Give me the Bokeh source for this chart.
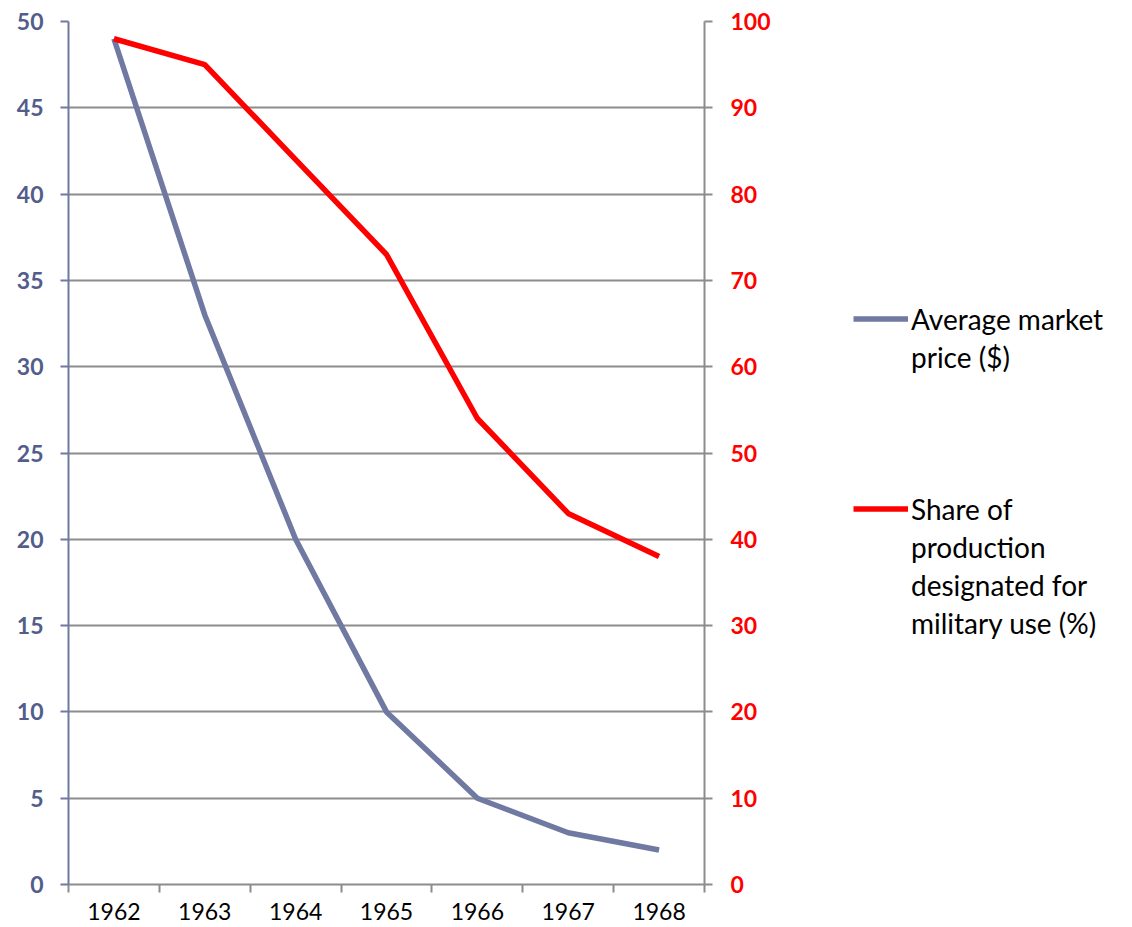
from bokeh.plotting import figure
from bokeh.layouts import row
from bokeh.models import Range1d, LinearAxis, FixedTicker, Legend, LegendItem
from bokeh.embed import file_html
from bokeh.resources import INLINE

years = ["1962", "1963", "1964", "1965", "1966", "1967", "1968"]
price = [49, 33, 20, 10, 5, 3, 2]
military_share = [98, 95, 84, 73, 54, 43, 38]
left_ticks = [0, 5, 10, 15, 20, 25, 30, 35, 40, 45, 50]
right_ticks = [0, 10, 20, 30, 40, 50, 60, 70, 80, 90, 100]
legend_price = ["Average market", "price ($)"]
legend_share = ["Share of", "production", "designated for", "military use (%)"]

FONT = "Lato"
BLUE = "#6F79A1"
BLUE_TXT = "#525D8A"
RED = "#FF0000"
GRAY = "#8C8C8C"
LINE_W = 5.5

xs = [i + 0.5 for i in range(len(years))]

p = figure(width=780, height=925, output_backend="svg", toolbar_location=None,
           x_range=Range1d(0, len(years)), y_range=Range1d(0, 50),
           min_border_left=68, min_border_right=76, min_border_top=21, min_border_bottom=41)
p.outline_line_color = None
p.background_fill_color = "white"
p.border_fill_color = "white"

p.extra_y_ranges = {"share": Range1d(0, 100)}

p.line(xs, price, line_color=BLUE, line_width=LINE_W)
p.line(xs, military_share, line_color=RED, line_width=LINE_W, y_range_name="share")

# x axis
xa = p.xaxis[0]
xa.ticker = FixedTicker(ticks=xs, minor_ticks=list(range(len(years) + 1)))
xa.major_label_overrides = {x: y for x, y in zip(xs, years)}
xa.major_tick_out = 0
xa.major_tick_in = 0
xa.minor_tick_out = 8
xa.minor_tick_in = 0
xa.minor_tick_line_color = GRAY
xa.minor_tick_line_width = 2
xa.axis_line_color = GRAY
xa.axis_line_width = 2
xa.major_label_text_font = FONT
xa.major_label_text_font_size = "23px"
xa.major_label_text_color = "black"
xa.major_label_standoff = 10

# left axis
ya = p.yaxis[0]
ya.ticker = FixedTicker(ticks=left_ticks)
ya.axis_line_color = BLUE
ya.axis_line_width = 2
ya.major_tick_line_color = BLUE
ya.major_tick_line_width = 2
ya.major_tick_out = 8
ya.major_tick_in = 0
ya.minor_tick_line_color = None
ya.major_label_text_font = FONT
ya.major_label_text_font_size = "23px"
ya.major_label_text_font_style = "bold"
ya.major_label_text_color = BLUE_TXT
ya.major_label_standoff = 17

# right axis
ra = LinearAxis(y_range_name="share", ticker=FixedTicker(ticks=right_ticks))
ra.axis_line_color = GRAY
ra.axis_line_width = 2
ra.major_tick_line_color = GRAY
ra.major_tick_line_width = 2
ra.major_tick_out = 8
ra.major_tick_in = 0
ra.minor_tick_line_color = None
ra.major_label_text_font = FONT
ra.major_label_text_font_size = "23px"
ra.major_label_text_font_style = "bold"
ra.major_label_text_color = RED
ra.major_label_standoff = 18
p.add_layout(ra, "right")

p.xgrid.grid_line_color = None
p.ygrid.ticker = FixedTicker(ticks=left_ticks)
p.ygrid.grid_line_color = GRAY
p.ygrid.grid_line_width = 2

# legend panel
q = figure(width=344, height=925, output_backend="svg", toolbar_location=None,
           x_range=Range1d(0, 1), y_range=Range1d(0, 1),
           x_axis_location=None, y_axis_location=None,
           min_border=0)
q.outline_line_color = None
q.grid.visible = False
k1 = q.line(x=[0], y=[0], line_color=BLUE, line_width=LINE_W)
k2 = q.line(x=[0], y=[0], line_color=RED, line_width=LINE_W)
kb = q.line(x=[0], y=[0], line_alpha=0)

items = [LegendItem(label=legend_price[0], renderers=[k1])]
items += [LegendItem(label=t, renderers=[kb]) for t in legend_price[1:]]
items += [LegendItem(label=" ", renderers=[kb]) for _ in range(3)]
items += [LegendItem(label=legend_share[0], renderers=[k2])]
items += [LegendItem(label=t, renderers=[kb]) for t in legend_share[1:]]

legend = Legend(items=items, location=(73, 244))
legend.label_text_font = FONT
legend.label_text_font_size = "28px"
legend.label_text_color = "black"
legend.glyph_width = 55
legend.glyph_height = 35
legend.label_standoff = 3
legend.label_height = 30
legend.spacing = 3
legend.margin = 0
legend.padding = 0
legend.background_fill_alpha = 0
legend.border_line_color = None
q.add_layout(legend, "center")

layout = row(p, q)
open("out.html", "w").write(file_html(layout, INLINE))
